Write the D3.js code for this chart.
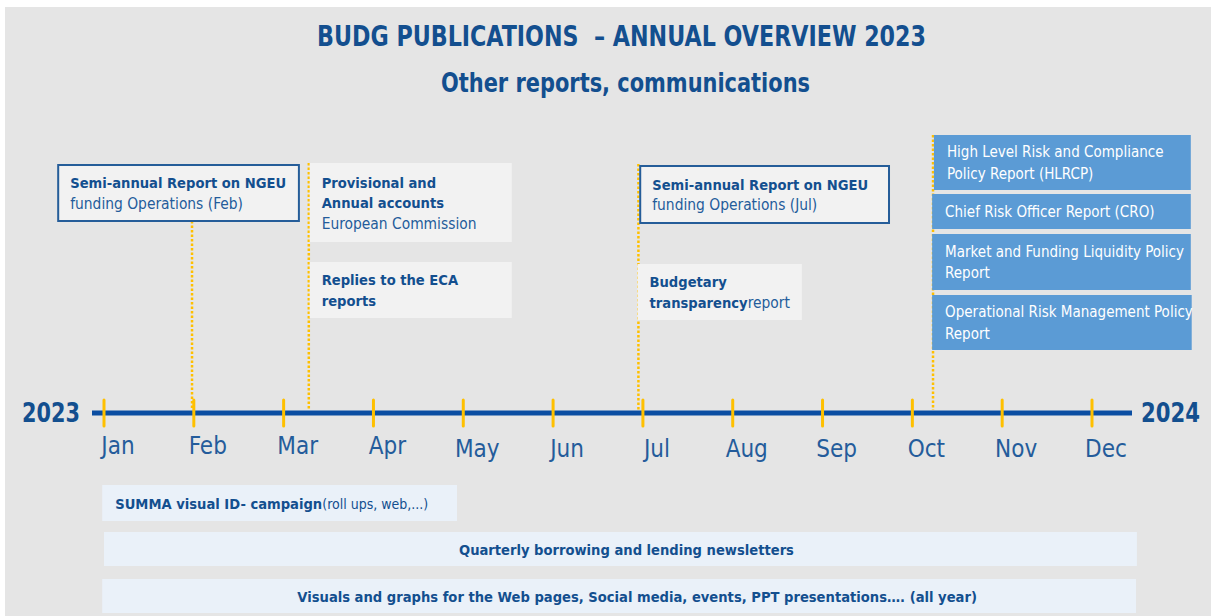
<!DOCTYPE html>
<html>
<head>
<meta charset="utf-8">
<script src="https://cdn.jsdelivr.net/npm/d3@7"></script>
<style>
  body { margin: 0; background: #fff; }
  svg { display: block; font-family: "DejaVu Sans Condensed", "DejaVu Sans", sans-serif; }
</style>
</head>
<body>
<svg id="chart" width="1211" height="616"></svg>
<script>
// chart data
var title = 'BUDG PUBLICATIONS  \u2013 ANNUAL OVERVIEW 2023';
var subtitle = 'Other reports, communications';
var months = ['Jan','Feb','Mar','Apr','May','Jun','Jul','Aug','Sep','Oct','Nov','Dec'];
var yearFrom = '2023', yearTo = '2024';

// each report: month position (fractional month index) + text lines as [text, bold]
var reports = [
  {id:'ngeuFeb', month:0.98, lines:[[['Semi-annual Report on NGEU',1]],[['funding Operations (Feb)',0]]]},
  {id:'accounts', month:2.28, lines:[[['Provisional and',1]],[['Annual accounts',1]],[['European Commission',0]]]},
  {id:'eca', month:2.28, lines:[[['Replies to the ECA',1]],[['reports',1]]]},
  {id:'ngeuJul', month:5.95, lines:[[['Semi-annual Report on NGEU',1]],[['funding Operations (Jul)',0]]]},
  {id:'transparency', month:5.95, lines:[[['Budgetary',1]],[['transparency',1],['report',0]]]},
  {id:'hlrcp', month:9.23, lines:[[['High Level Risk and Compliance',0]],[['Policy Report (HLRCP)',0]]]},
  {id:'cro', month:9.23, lines:[[['Chief Risk Officer Report (CRO)',0]]]},
  {id:'liquidity', month:9.23, lines:[[['Market and Funding Liquidity Policy',0]],[['Report',0]]]},
  {id:'oprisk', month:9.23, lines:[[['Operational Risk Management Policy',0]],[['Report',0]]]}
];

// year-long activities: start / end in month index
var activities = [
  {id:'summa', start:-0.02, end:3.93, lines:[['SUMMA visual ID- campaign',1],['(roll ups, web,...)',0]]},
  {id:'quarterly', start:0, end:11.5, lines:[['Quarterly borrowing and lending newsletters',1]]},
  {id:'visuals', start:-0.02, end:11.49, lines:[['Visuals and graphs for the Web pages, Social media, events, PPT presentations\u2026. (all year)',1]]}
];

// layout (pixels / month units for box extents)
var boxLayout = {
  ngeuFeb:     {x0:-0.51, x1:2.17, y0:165, y1:221, style:'outline', lineTop:221},
  accounts:    {x0:2.29, x1:4.54, y0:163, y1:242, style:'plain', lineTop:163},
  eca:         {x0:2.29, x1:4.54, y0:262, y1:318, style:'plain'},
  ngeuJul:     {x0:5.97, x1:8.74, y0:166, y1:223, style:'outline', lineTop:164},
  transparency:{x0:5.94, x1:7.77, y0:264, y1:320, style:'plain'},
  hlrcp:       {x0:9.24, x1:12.10, y0:135, y1:190, style:'blue', lineTop:135},
  cro:         {x0:9.22, x1:12.10, y0:194, y1:229, style:'blue'},
  liquidity:   {x0:9.22, x1:12.10, y0:234, y1:290, style:'blue'},
  oprisk:      {x0:9.22, x1:12.11, y0:295, y1:350, style:'blue'}
};
var barLayout = {
  summa:     {y0:485, y1:521, align:'start'},
  quarterly: {y0:532, y1:566, align:'middle'},
  visuals:   {y0:579, y1:613, align:'middle'}
};

var navy = '#134f8f', textBlue = '#245c9b', lineBlue = '#0b4ea2', yellow = '#ffc000';
var timelineY = 413;

var svg = d3.select('#chart');
var x = d3.scaleLinear().domain([0, 11]).range([104, 1092]);

svg.append('rect').attr('x',5).attr('y',7).attr('width',1206).attr('height',609).attr('fill','#e5e5e5');

svg.append('text').attr('x',317).attr('y',46)
  .attr('font-size',28).attr('font-weight','bold').attr('fill',navy)
  .attr('textLength',609).attr('lengthAdjust','spacingAndGlyphs')
  .attr('xml:space','preserve').text(title);
svg.append('text').attr('x',441).attr('y',92)
  .attr('font-size',27).attr('font-weight','bold').attr('fill',navy)
  .attr('textLength',369).attr('lengthAdjust','spacingAndGlyphs').text(subtitle);

// dotted connectors
svg.selectAll('.connector')
  .data(reports.filter(d => boxLayout[d.id].lineTop !== undefined))
  .join('line')
  .attr('class','connector')
  .attr('x1', d => x(d.month)).attr('x2', d => x(d.month))
  .attr('y1', d => boxLayout[d.id].lineTop).attr('y2', timelineY - 3)
  .attr('stroke', yellow).attr('stroke-width', 2.5).attr('stroke-dasharray','2.5,2');

// report boxes
var boxes = svg.selectAll('.report')
  .data(reports)
  .join('g')
  .attr('class','report');

boxes.append('rect')
  .attr('x', d => x(boxLayout[d.id].x0))
  .attr('y', d => boxLayout[d.id].y0)
  .attr('width', d => x(boxLayout[d.id].x1) - x(boxLayout[d.id].x0))
  .attr('height', d => boxLayout[d.id].y1 - boxLayout[d.id].y0)
  .attr('fill', d => boxLayout[d.id].style == 'blue' ? '#5b9bd5' : '#f2f2f2')
  .attr('stroke', d => boxLayout[d.id].style == 'outline' ? '#255d99' : 'none')
  .attr('stroke-width', 2);

boxes.each(function(d){
  var b = boxLayout[d.id];
  var blue = b.style == 'blue';
  var lh = blue ? 21.5 : 20.5;
  var n = d.lines.length;
  var mid = (b.y0 + b.y1) / 2;
  var firstY = mid - (n - 1) * lh / 2 + 5.5;
  var t = d3.select(this).append('text');
  d.lines.forEach(function(line, i){
    line.forEach(function(seg, j){
      var ts = t.append('tspan').text(seg[0])
        .attr('font-weight', seg[1] ? 'bold' : 'normal')
        .attr('font-size', seg[1] ? 14.6 : (blue ? 15 : 15.4))
        .attr('fill', blue ? '#ffffff' : (seg[1] ? navy : textBlue));
      if (j == 0) ts.attr('x', x(b.x0) + (blue ? 13 : 12)).attr('y', firstY + i * lh);
    });
  });
});

// timeline
svg.append('line').attr('x1',92).attr('x2',1132).attr('y1',timelineY).attr('y2',timelineY)
  .attr('stroke',lineBlue).attr('stroke-width',5);

svg.selectAll('.tick')
  .data(months)
  .join('line')
  .attr('class','tick')
  .attr('x1',(d,i) => x(i)).attr('x2',(d,i) => x(i))
  .attr('y1',timelineY - 13).attr('y2',timelineY + 13)
  .attr('stroke',yellow).attr('stroke-width',3).attr('stroke-linecap','round');

svg.selectAll('.month')
  .data(months)
  .join('text')
  .attr('class','month')
  .attr('x',(d,i) => x(i) + 14)
  .attr('y',(d,i) => 454 + (i > 3 ? 3 : 0))
  .attr('text-anchor','middle')
  .attr('font-size',24)
  .attr('fill',textBlue)
  .text(d => d);

svg.append('text').attr('x',22).attr('y',422)
  .attr('font-size',27).attr('font-weight','bold').attr('fill',navy)
  .attr('textLength',58).attr('lengthAdjust','spacingAndGlyphs').text(yearFrom);
svg.append('text').attr('x',1141).attr('y',422)
  .attr('font-size',27).attr('font-weight','bold').attr('fill',navy)
  .attr('textLength',59).attr('lengthAdjust','spacingAndGlyphs').text(yearTo);

// activity bars
var bars = svg.selectAll('.activity')
  .data(activities)
  .join('g')
  .attr('class','activity');

bars.append('rect')
  .attr('x', d => x(d.start))
  .attr('y', d => barLayout[d.id].y0)
  .attr('width', d => x(d.end) - x(d.start))
  .attr('height', d => barLayout[d.id].y1 - barLayout[d.id].y0)
  .attr('fill','#eaf1f9');

bars.each(function(d){
  var b = barLayout[d.id];
  var t = d3.select(this).append('text')
    .attr('y', (b.y0 + b.y1) / 2 + 5.5)
    .attr('fill', navy)
    .attr('text-anchor', b.align)
    .attr('x', b.align == 'start' ? x(d.start) + 13 : (x(d.start) + x(d.end)) / 2 + (d.id == 'visuals' ? 18 : 6));
  d.lines.forEach(function(seg){
    t.append('tspan').text(seg[0])
      .attr('font-weight', seg[1] ? 'bold' : 'normal')
      .attr('font-size', seg[1] ? 14.6 : 14);
  });
});
</script>
</body>
</html>
